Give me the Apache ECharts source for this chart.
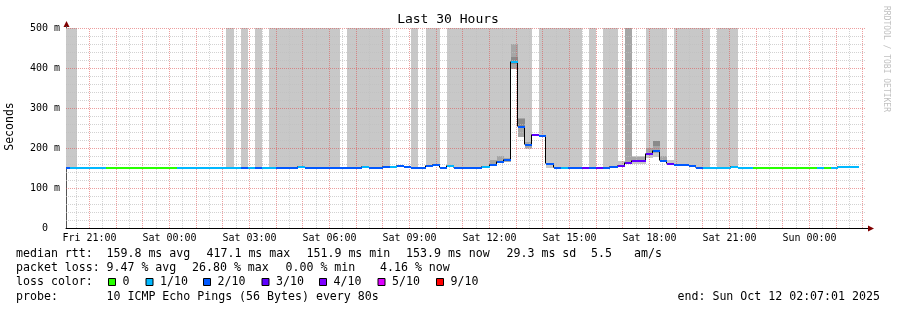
<!DOCTYPE html>
<html><head><meta charset="utf-8">
<script src="https://cdn.jsdelivr.net/npm/echarts@6/dist/echarts.min.js"></script>
<style>html,body{margin:0;padding:0;background:#fff}#c{width:897px;height:310px}</style>
</head><body><div id="c"></div>
<script>
// ---- data (16-minute consolidated steps, step 0 starts Fri 20:00) ----
const stepMinutes = 16;
const firstStepHour = 20;
const medianMs = [
152,152,152,152,152,152,152,152,152,152,
152,152,152,152,152,152,152,152,152,152,
152,152,152,152,152,152,152,152,152,152,
152,152,152,155,152,152,152,152,152,152,
152,152,153,152,152,153,154,156,153,152,
152,157,159,152,157,152,152,152,152,153,
160,167,171,417,253,210,233,231,162,152,
152,152,152,152,152,152,152,153,157,164,
170,170,187,193,169,162,160,160,156,152,
152,152,152,152,154,152,152,152,152,152,
152,152,152,152,152,152,152,152,152,154,
154,154];
const lossLevel = [
2,1,1,1,1,1,0,0,0,0,
0,0,0,0,0,0,1,1,1,1,
1,1,1,1,1,2,1,2,1,1,
2,2,2,1,2,2,2,2,2,2,
2,2,1,2,2,2,1,2,2,2,
2,2,2,2,1,2,2,2,2,1,
2,2,2,1,2,2,3,2,2,2,
1,2,2,3,2,3,2,2,3,3,
3,3,3,2,2,3,2,2,2,2,
1,1,1,1,1,1,1,0,0,0,
0,0,0,0,0,0,1,0,1,1,
1,1];
// smoke ranges: [step, low ms, high ms]
const smokeLight = [
[0,152,500],[1,152,500],[23,152,500],[25,152,500],[27,152,500],
[29,152,500],[30,152,500],[31,152,500],[32,152,500],[33,155,500],[34,152,500],[35,152,500],[36,152,500],[37,152,500],[38,152,500],
[40,152,500],[41,152,500],[42,153,500],[43,152,500],[44,152,500],[45,153,500],
[49,152,500],[51,157,500],[52,159,500],
[54,157,500],[55,152,500],[56,152,500],[57,152,500],[58,152,500],[59,153,500],[60,160,500],[61,167,500],[62,171,500],[63,397,500],[64,227,500],[65,197,500],
[67,231,500],[68,151,500],[69,152,500],[70,152,500],[71,152,500],[72,152,500],
[74,152,500],[76,152,500],[77,153,500],[78,155,168],[79,164,500],[80,160,180],[81,160,180],[82,176,500],[83,178,500],[84,165,500],[85,158,170],
[86,160,500],[87,160,500],[88,156,500],[89,152,500],[90,152,500],[92,152,500],[93,152,500],[94,154,500]];
const smokeMid = [[60,158,170],[61,163,180],[62,166,176],[63,397,460],[64,227,276],[65,200,214],
[79,164,500],[80,165,177],[81,165,177],[82,182,200],[83,188,218],[84,165,180]];
const smokeDark = [[63,410,428],[64,254,272],[83,205,218]];

const lossColors = ['#26ff00','#00b8ff','#0059ff','#5e00ff','#7e00ff','#dd00ff','#ff0000'];
const lossLabels = ['0','1/10','2/10','3/10','4/10','5/10','9/10'];
const xTickHours = [21,24,27,30,33,36,39,42,45,48];
const xTickLabels = ['Fri 21:00','Sat 00:00','Sat 03:00','Sat 06:00','Sat 09:00','Sat 12:00','Sat 15:00','Sat 18:00','Sat 21:00','Sun 00:00'];

// ---- chart ----
const xMin = 20 + 7/60 + 1/3600;   // Fri 20:07:01
const xMax = xMin + 30;            // Sun 02:07:01
const stepStart = k => firstStepHour + k * stepMinutes / 60;
const MONO = '"DejaVu Sans Mono"';

function rectSeries(list, color, z) {
  return {
    type: 'custom', coordinateSystem: 'cartesian2d', z, clip: true, silent: true, animation: false,
    data: list.map(([k, lo, hi]) => [stepStart(k), stepStart(k + 1), lo, hi]),
    renderItem(params, api) {
      const a = api.coord([api.value(0), api.value(3)]);
      const b = api.coord([api.value(1), api.value(2)]);
      const x0 = Math.round(a[0]), x1 = Math.round(b[0]);
      const y0 = Math.round(a[1]), y1 = Math.round(b[1]);
      return { type: 'rect', shape: { x: x0, y: y0, width: x1 - x0, height: y1 - y0 }, style: { fill: color } };
    }
  };
}

const vGrid = [];
for (let h = 20.5; h < xMax; h += 0.5) if (h > xMin) vGrid.push([h, h % 1 === 0 ? 1 : 0]);
const hGrid = [];
for (let v = 20; v <= 500; v += 20) hGrid.push([v, v % 100 === 0 ? 1 : 0]);
const MINOR = 'rgba(191,191,191,0.7)', MAJOR = 'rgba(222,79,79,0.55)';

const stepData = medianMs.map((v, k) => [stepStart(k), stepStart(k + 1), v,
  k + 1 < medianMs.length ? medianMs[k + 1] : v, lossLevel[k]]);

const series = [
  rectSeries(smokeLight, '#c8c8c8', 1),
  rectSeries(smokeMid, '#a6a6a6', 2),
  rectSeries(smokeDark, '#8a8a8a', 3),
  { type: 'custom', z: 4, clip: true, silent: true, animation: false, data: vGrid,
    renderItem(params, api) {
      const a = api.coord([api.value(0), 0]), b = api.coord([api.value(0), 500]);
      const x = Math.floor(a[0]) + 0.5;
      return { type: 'line', shape: { x1: x, y1: a[1], x2: x, y2: b[1] },
        style: { stroke: api.value(1) ? MAJOR : MINOR, lineWidth: 1, lineDash: [1, 1] } };
    } },
  { type: 'custom', z: 4, clip: true, silent: true, animation: false, data: hGrid,
    renderItem(params, api) {
      const a = api.coord([xMin, api.value(0)]), b = api.coord([xMax, api.value(0)]);
      const y = Math.floor(a[1]) + 0.5;
      return { type: 'line', shape: { x1: a[0], y1: y, x2: b[0], y2: y },
        style: { stroke: api.value(1) ? MAJOR : MINOR, lineWidth: 1, lineDash: [1, 1] } };
    } },
  { type: 'custom', z: 5, clip: true, silent: true, animation: false, data: stepData,
    renderItem(params, api) {
      const a = api.coord([api.value(0), api.value(2)]);
      const b = api.coord([api.value(1), api.value(3)]);
      const x0 = Math.round(a[0]), x1 = Math.round(b[0]) - 0.5;
      const y = Math.floor(a[1]) + 0.5, yn = Math.floor(b[1]) + 0.5;
      return { type: 'polyline', shape: { points: [[x0, y], [x1, y], [x1, yn]] },
        style: { stroke: '#000', lineWidth: 1, fill: null } };
    } },
  { type: 'custom', z: 6, clip: true, silent: true, animation: false, data: stepData,
    renderItem(params, api) {
      const a = api.coord([api.value(0), api.value(2)]);
      const b = api.coord([api.value(1), api.value(2)]);
      const x0 = Math.round(a[0]), x1 = Math.round(b[0]);
      const top = Math.floor(a[1]);
      return { type: 'rect', shape: { x: x0, y: top, width: x1 - x0, height: 2 },
        style: { fill: lossColors[api.value(4)] } };
    } }
];

// ---- texts / legend ----
const g = [];
function T(x, y, text, size, extra) {
  g.push(Object.assign({ type: 'text', x, y, silent: true,
    style: { text, fill: '#000', font: size + 'px ' + MONO, align: 'left', verticalAlign: 'middle' } }, extra || {}));
}
T(448, 19.8, 'Last 30 Hours', 13);
g[g.length - 1].style.align = 'center';
g.push({ type: 'text', x: 10.5, y: 126.5, rotation: Math.PI / 2, silent: true,
  style: { text: 'Seconds', fill: '#000', font: '11.5px ' + MONO, align: 'center', verticalAlign: 'middle' } });
g.push({ type: 'text', x: 886.5, y: 59, rotation: -Math.PI / 2, silent: true,
  style: { text: 'RRDTOOL / TOBI OETIKER', fill: '#c0c0c0', font: '8px ' + MONO, align: 'center', verticalAlign: 'middle' } });

const LF = 11.6;
const rows = [254.3, 268.4, 282.4, 296.6];
[[16,'median rtt:'],[106.5,'159.8 ms avg'],[206.5,'417.1 ms max'],[306.5,'151.9 ms min'],[406,'153.9 ms now'],
 [506.5,'29.3 ms sd'],[591,'5.5'],[634,'am/s']].forEach(([x, t]) => T(x, rows[0], t, LF));
[[16,'packet loss:'],[106.5,'9.47 % avg'],[192,'26.80 % max'],[285.5,'0.00 % min'],[380,'4.16 % now']]
  .forEach(([x, t]) => T(x, rows[1], t, LF));
T(16, rows[2], 'loss color:', LF);
const sqX = [108, 145.5, 203, 261.5, 319, 377.5, 436];
lossLabels.forEach((lab, i) => {
  g.push({ type: 'rect', silent: true, shape: { x: sqX[i] + 0.5, y: 278.5, width: 7, height: 7 },
    style: { fill: lossColors[i], stroke: '#000', lineWidth: 1 } });
  T(sqX[i] + 14.5, rows[2], lab, LF);
});
T(16, rows[3], 'probe:', LF);
T(106.5, rows[3], '10 ICMP Echo Pings (56 Bytes) every 80s', LF);
T(677.5, rows[3], 'end: Sun Oct 12 02:07:01 2025', LF);
// axis arrows
const ARROW = '#800000';
g.push({ type: 'polygon', silent: true, shape: { points: [[66.5, 21], [63.5, 27], [69.5, 27]] }, style: { fill: ARROW } });
g.push({ type: 'polygon', silent: true, shape: { points: [[874, 228.5], [868, 225.5], [868, 231.5]] }, style: { fill: ARROW } });
g.push({ type: 'line', silent: true, shape: { x1: 866, y1: 228.5, x2: 868, y2: 228.5 }, style: { stroke: '#000', lineWidth: 1 } });
g.push({ type: 'line', silent: true, shape: { x1: 66.5, y1: 26, x2: 66.5, y2: 28 }, style: { stroke: '#555', lineWidth: 1 } });

const chart = echarts.init(document.getElementById('c'), null, { renderer: 'canvas' });
chart.setOption({
  backgroundColor: '#fff',
  animation: false,
  grid: { left: 66, top: 28, width: 800, height: 200, containLabel: false, outerBoundsMode: 'none' },
  xAxis: {
    type: 'value', min: xMin, max: xMax,
    axisLine: { show: true, onZero: false, lineStyle: { color: '#000', width: 1 } },
    axisTick: { show: false }, splitLine: { show: false },
    axisLabel: { customValues: xTickHours, margin: 5, color: '#000', fontFamily: 'DejaVu Sans Mono', fontSize: 10,
      formatter: v => xTickLabels[xTickHours.indexOf(Math.round(v))] || '' }
  },
  yAxis: {
    type: 'value', min: 0, max: 500, interval: 100,
    axisLine: { show: true, lineStyle: { color: '#555', width: 1 } },
    axisTick: { show: false }, splitLine: { show: false },
    axisLabel: { margin: 6, color: '#000', fontFamily: 'DejaVu Sans Mono', fontSize: 10,
      formatter: v => v === 0 ? '0  ' : v + ' m' }
  },
  series,
  graphic: g
});
</script></body></html>
